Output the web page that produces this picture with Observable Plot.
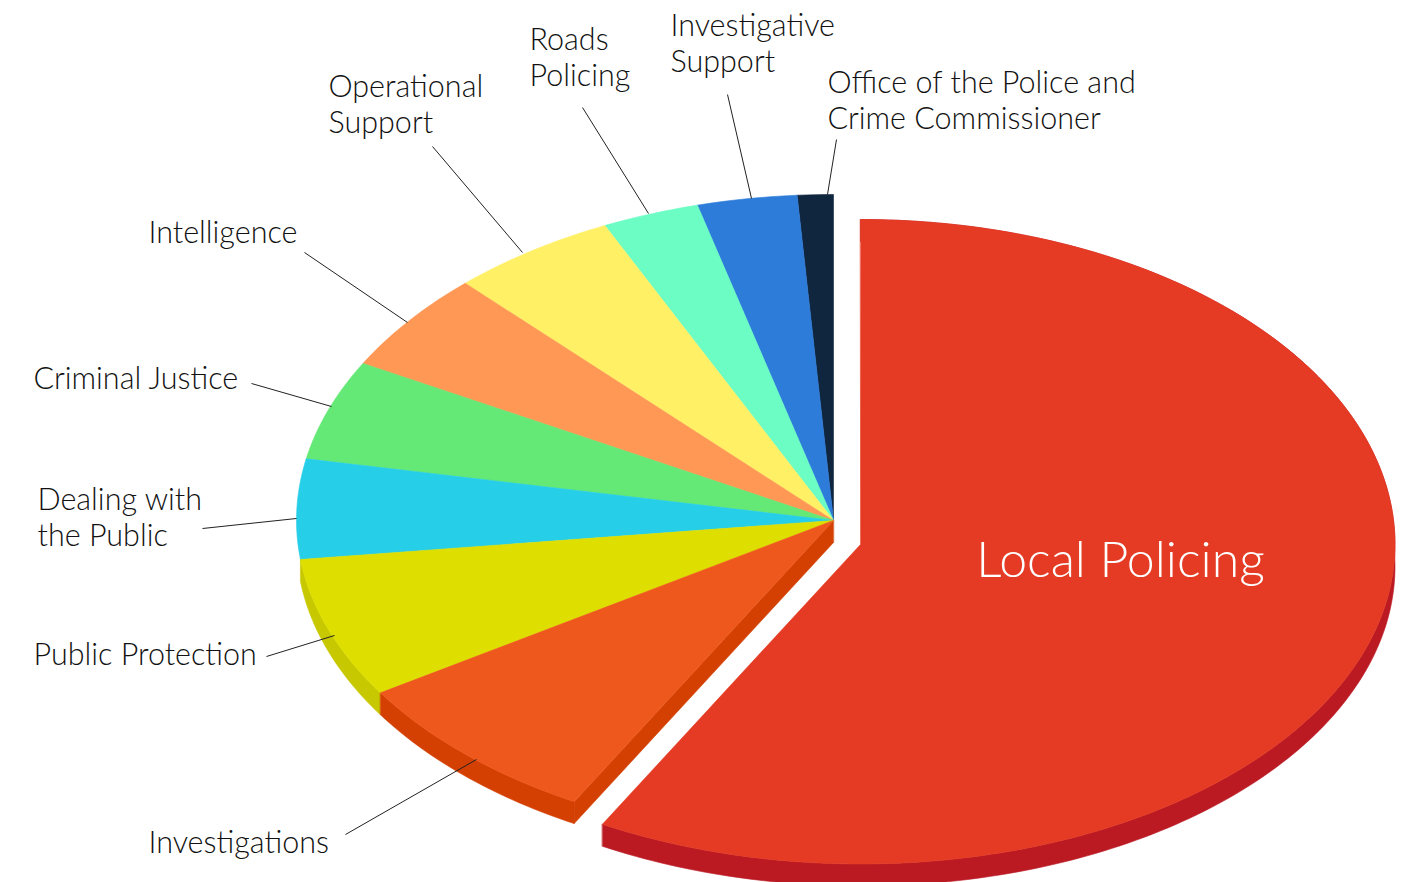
<!DOCTYPE html>
<html>
<head>
<meta charset="utf-8">
<script src="https://cdn.jsdelivr.net/npm/d3@7"></script>
<script src="https://cdn.jsdelivr.net/npm/@observablehq/plot@0.6"></script>
<style>
html,body{margin:0;padding:0;background:#fff;overflow:hidden}
svg{display:block}
</style>
</head>
<body>
<div id="chart"></div>
<script>
// Data: budget shares in percent, read counter-clockwise from 12 o'clock
const categories = ["Office of the Police and Crime Commissioner","Investigative Support","Roads Policing","Operational Support","Intelligence","Criminal Justice","Dealing with the Public","Public Protection","Investigations","Local Policing"];
const shares = [1.08,3.0,2.92,5.03,4.97,4.97,4.97,7.08,7.96,58.02];
const topColors = ["#10263F","#2E7CDA","#6CFDC4","#FFF066","#FF9755","#64E876","#27CEE8","#DEDF00","#EE581C","#E53A23"];
const sideColors = {"Public Protection":"#C8C800","Investigations":"#D43F02","Local Policing":"#BB1A23"};
const labelLines = ["Office of the Police and\nCrime Commissioner","Investigative\nSupport","Roads\nPolicing","Operational\nSupport","Intelligence","Criminal Justice","Dealing with\nthe Public","Public Protection","Investigations"];

// Layout (annotation positions in the 1413x882 frame)
const labelX = [827,670,529,328,148,33,37,33,148];
const labelY = [99,42,56,103,231,377,516,653,841];
const leaderFrom = [[836,139],[727,94],[582,107],[432,146],[304,252],[251,383],[202,528],[266,656],[345,834]];
const leaderTo = [[827,194],[751,198],[648,213],[522,252],[407,322],[331,406],[296,518],[334,635],[476,759]];

// Pie geometry
const W = 1413, H = 882;
const base = {cx:833, cy:520, rx:537, ryTop:326, ryBot:321};
const exploded = {cx:860, cy:544, rx:534.5, ryTop:325, ryBot:319.5};
const depth = 22;
const rad = Math.PI/180;
function rim(g, deg){
  const c = Math.cos(deg*rad);
  return {x:g.cx + g.rx*Math.sin(deg*rad), y:g.cy - (c>=0?g.ryTop:g.ryBot)*c};
}
function arc(g, a0, a1){
  const n = Math.max(2, Math.ceil(Math.abs(a1-a0)));
  return d3.range(n+1).map(i => rim(g, a0+(a1-a0)*i/n));
}
const drop = p => ({x:p.x, y:p.y+depth});

let acc = 0;
const slices = categories.map((name,i)=>{
  const a0 = -acc*3.6; acc += shares[i]; const a1 = -acc*3.6;
  return {name, a0, a1, color:topColors[i], side:sideColors[name], g: name==="Local Policing"?exploded:base};
});

const polys = [];
for (const s of slices) {
  const c = {x:s.g.cx, y:s.g.cy};
  if (s.side) {
    const wall = arc(s.g, s.a0, s.a1);
    polys.push({pts:[...wall, ...wall.slice().reverse().map(drop)], fill:s.side});
    if (s.name==="Investigations") {
      const e = rim(s.g, s.a1);
      polys.push({pts:[c, e, drop(e), drop(c)], fill:s.side});
    }
  }
}
for (const s of slices) {
  polys.push({pts:[{x:s.g.cx,y:s.g.cy}, ...arc(s.g, s.a0, s.a1)], fill:s.color});
}

const links = leaderFrom.map((f,i)=>({x1:f[0],y1:f[1],x2:leaderTo[i][0],y2:leaderTo[i][1]}));
const labels = labelLines.map((t,i)=>({t,x:labelX[i],y:labelY[i]}));
const font = "Lato, 'Noto Sans', sans-serif";

const fig = Plot.plot({
  width:W, height:H, margin:0,
  x:{domain:[0,W], range:[0,W], axis:null},
  y:{domain:[0,H], range:[0,H], axis:null},
  style:{background:"#fff"},
  marks:[
    ...polys.map(p=>Plot.line(p.pts,{x:"x",y:"y",fill:p.fill,stroke:p.fill,strokeWidth:0.6,curve:"linear-closed",clip:"frame"})),
    Plot.link(links,{x1:"x1",y1:"y1",x2:"x2",y2:"y2",stroke:"#222",strokeWidth:1}),
    Plot.text(labels,{x:"x",y:"y",text:"t",textAnchor:"start",lineAnchor:"middle",lineHeight:1.17,fontSize:30.5,fontFamily:font,fontWeight:300,fill:"#111"}),
    Plot.text(["Local Policing"],{x:[1120],y:[560],text:d=>d,textAnchor:"middle",lineAnchor:"middle",fontSize:50,fontFamily:font,fontWeight:300,fill:"#fff"})
  ]
});
document.getElementById("chart").appendChild(fig);
</script>
</body>
</html>
